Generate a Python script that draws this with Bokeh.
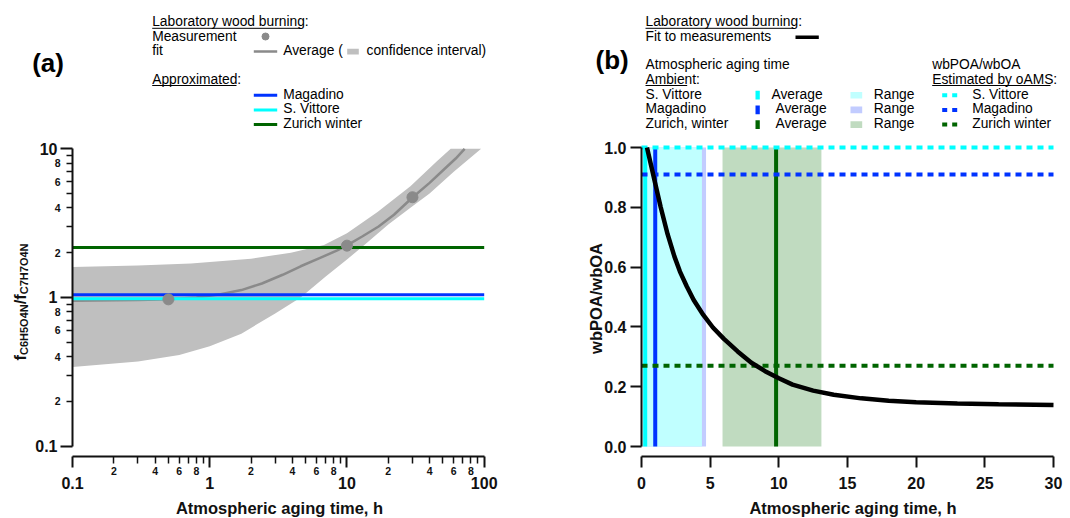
import math
from bokeh.plotting import figure
from bokeh.models import (Range1d, FixedTicker, LogAxis, LinearAxis, LogScale,
                          PrintfTickFormatter)
from bokeh.layouts import row
from bokeh.core.properties import value
from bokeh.embed import file_html
from bokeh.resources import INLINE

FONT = "Liberation Sans"

# ---------------- data: panel (a) ----------------
meas_time = [0.5, 10, 30]
meas_ratio = [0.97, 2.23, 4.72]
fit_time = [0.1, 0.3, 0.5, 0.8, 1.2, 1.7, 2.4, 3.4, 4.6, 6.5, 8.5, 10, 13, 17, 22, 30,
            40, 52, 62, 72]
fit_ratio = [0.95, 0.96, 0.97, 1.0, 1.05, 1.12, 1.24, 1.42, 1.62, 1.86, 2.07, 2.24, 2.58,
             3.0, 3.6, 4.7, 5.9, 7.4, 8.6, 10]
ci_up_time = [0.1, 0.3, 0.73, 2, 3.9, 6.8, 10, 16.7, 29, 45, 57, 95]
ci_up = [1.6, 1.64, 1.69, 1.82, 2.0, 2.25, 2.7, 3.75, 5.6, 8.2, 10, 10]
ci_lo_time = [0.1, 0.3, 0.6, 1.0, 1.7, 3, 4.6, 7, 10, 13, 20, 30, 40, 60, 95]
ci_lo = [0.34, 0.37, 0.41, 0.47, 0.57, 0.78, 1.0, 1.38, 1.8, 2.2, 3.1, 4.1, 5.0, 7.0, 10]
approx_sites = ["Magadino", "S. Vittore", "Zurich winter"]
approx_ratio = [1.04, 0.98, 2.17]

# ---------------- data: panel (b) ----------------
fitb_time = [0.4, 0.7, 1.0, 1.4, 1.9, 2.4, 2.8, 3.3, 3.8, 4.5, 5.2, 6.0, 7.0, 8.0, 9.0,
             10.0, 11.0, 12.5, 14, 16, 18, 20, 23, 26, 30]
fitb_ratio = [1.0, 0.94, 0.88, 0.80, 0.71, 0.635, 0.585, 0.535, 0.49, 0.44, 0.398, 0.36,
              0.318, 0.28, 0.252, 0.228, 0.207, 0.187, 0.173, 0.161, 0.153, 0.148, 0.144,
              0.141, 0.139]
amb_sites = ["S. Vittore", "Magadino", "Zurich, winter"]
age_avg = [0.27, 1.0, 9.8]
age_min = [0.0, 0.0, 5.9]
age_max = [4.4, 4.7, 13.1]
oams_sites = ["S. Vittore", "Magadino", "Zurich winter"]
oams_ratio = [1.0, 0.91, 0.27]

# ---------------- ticks ----------------
xa_major = [0.1, 1, 10, 100]
xa_major_labels = ["0.1", "1", "10", "100"]
xa_minor = [0.2, 0.3, 0.4, 0.5, 0.6, 0.7, 0.8, 0.9, 2, 3, 4, 5, 6, 7, 8, 9,
            20, 30, 40, 50, 60, 70, 80, 90]
xa_minor_lab = [0.2, 0.4, 0.6, 0.8, 2, 4, 6, 8, 20, 40, 60, 80]
xa_minor_txt = ["2", "4", "6", "8"] * 3
ya_major = [0.1, 1, 10]
ya_major_labels = ["0.1", "1", "10"]
ya_minor = [0.2, 0.3, 0.4, 0.5, 0.6, 0.7, 0.8, 0.9, 2, 3, 4, 5, 6, 7, 8, 9]
ya_minor_lab = [0.2, 0.4, 0.6, 0.8, 2, 4, 6, 8]
ya_minor_txt = ["2", "4", "6", "8"] * 2
xb_ticks = [0, 5, 10, 15, 20, 25, 30]
yb_ticks = [0.0, 0.2, 0.4, 0.6, 0.8, 1.0]

# ---------------- styles ----------------
C_BLUE = "#0033ff"
C_CYAN = "#00ffff"
C_GREEN = "#006400"
C_GREY = "#8a8a8a"
C_BAND = "#bfbfbf"
approx_colors = [C_BLUE, C_CYAN, C_GREEN]
amb_colors = [C_CYAN, C_BLUE, C_GREEN]
range_colors = ["#c0ffff", "#c2ccff", "#c0dbc0"]
AX = "#111111"

W, H = 535, 518          # each panel canvas (pixels)
ROWS = [26, 40.3, 54.6, 69, 83.3, 98.3, 113, 127.7]   # legend baselines (page px)
MID = 0.347              # em-box middle above the alphabetic baseline


def make_fig(xr, yr, xlog=False, ylog=False):
    kw = {}
    if xlog:
        kw["extra_x_scales"] = {"d": LogScale()}
    if ylog:
        kw["extra_y_scales"] = {"d": LogScale()}
    p = figure(width=W, height=H, x_range=Range1d(0, W), y_range=Range1d(0, H),
               extra_x_ranges={"d": xr}, extra_y_ranges={"d": yr},
               x_axis_location=None, y_axis_location=None,
               output_backend="svg", toolbar_location=None, outline_line_color=None,
               min_border_left=0, min_border_right=0, min_border_top=0,
               min_border_bottom=0, **kw)
    p.grid.visible = False
    return p


def T(p, xoff, X, Y, s, fs=13.8, bold=False, align="left", rot=False, color="black"):
    """Text whose alphabetic baseline passes through page point (X, Y)."""
    if rot:
        x, y, ang = X - xoff - MID * fs, H - Y, math.pi / 2
    else:
        x, y, ang = X - xoff, H - (Y - MID * fs), 0.0
    p.text(x=[x], y=[y], text=[s], angle=ang, text_font=value(FONT),
           text_font_size=value(f"{fs}px"), text_font_style="bold" if bold else "normal",
           text_align=align, text_baseline="middle", text_color=color)


def S(p, xoff, X0, Y0, X1, Y1, **kw):
    p.segment(x0=[X0 - xoff], y0=[H - Y0], x1=[X1 - xoff], y1=[H - Y1], **kw)


def Q(p, xoff, L, R, Tp, B, color):
    p.quad(left=[L - xoff], right=[R - xoff], top=[H - Tp], bottom=[H - B],
           fill_color=color, line_color=None)


def style_axis(ax, tick_out, minor_out, standoff, size="16px"):
    ax.axis_line_width = 2
    ax.axis_line_color = AX
    ax.major_tick_line_width = 2
    ax.major_tick_line_color = AX
    ax.minor_tick_line_width = 1.5
    ax.minor_tick_line_color = AX
    ax.major_tick_in = 0
    ax.minor_tick_in = 0
    ax.major_tick_out = tick_out
    ax.minor_tick_out = minor_out
    ax.major_label_standoff = standoff
    ax.major_label_text_font = FONT
    ax.major_label_text_font_style = "bold"
    ax.major_label_text_font_size = size
    ax.major_label_text_color = AX


# ======================= panel (a) =======================
AX0, AX1 = 72, 483.7          # page x of 0.1 and 100
DXA = (AX1 - AX0) / 3
AY10, DYA = 148.3, 148.6      # page y of 10, px per decade
xr_a = Range1d(10 ** (-1 - AX0 / DXA), 10 ** (2 + (W - AX1) / DXA))
yr_a = Range1d(10 ** (1 - (H - AY10) / DYA), 10 ** (1 + AY10 / DYA))
pa = make_fig(xr_a, yr_a, xlog=True, ylog=True)
D = dict(x_range_name="d", y_range_name="d")

pa.patch(ci_up_time + ci_lo_time[::-1], ci_up + ci_lo[::-1], fill_color=C_BAND,
         line_color=None, **D)
pa.line(fit_time, fit_ratio, line_color=C_GREY, line_width=2.5, **D)
for i in [1, 0, 2]:
    pa.segment(x0=[xa_major[0]], y0=[approx_ratio[i]], x1=[xa_major[-1]], y1=[approx_ratio[i]],
               line_color=approx_colors[i], line_width=3, **D)
pa.scatter(meas_time, meas_ratio, size=11, color=C_GREY, **D)

xa = LogAxis(x_range_name="d", fixed_location=H - 456, bounds=(0.1, 100),
             ticker=FixedTicker(ticks=xa_major, minor_ticks=xa_minor),
             major_label_overrides=dict(zip(xa_major, xa_major_labels)))
style_axis(xa, 11, 7, 9)
pa.add_layout(xa, "below")
ya = LogAxis(y_range_name="d", fixed_location=AX0, bounds=(0.1, 10),
             ticker=FixedTicker(ticks=ya_major, minor_ticks=ya_minor),
             major_label_overrides=dict(zip(ya_major, ya_major_labels)))
style_axis(ya, 12, 6, 3)
pa.add_layout(ya, "left")

# small minor-tick labels
pa.text(x=xa_minor_lab, y=[H - 470] * len(xa_minor_lab), text=xa_minor_txt, x_range_name="d",
        text_font=value(FONT), text_font_size=value("10.5px"), text_font_style="bold",
        text_align="center", text_baseline="middle", text_color=AX)
pa.text(x=[60] * len(ya_minor_lab), y=ya_minor_lab, text=ya_minor_txt, y_range_name="d",
        text_font=value(FONT), text_font_size=value("10.5px"), text_font_style="bold",
        text_align="right", text_baseline="middle", text_color=AX)

# axis titles
for s, bx, by, fs in [("f", 25.5, 360, 16.5), ("C6H5O4N", 27.5, 354.5, 11),
                      ("/f", 25.5, 303.8, 16.5), ("C7H7O4N", 27.5, 293.7, 11)]:
    T(pa, 0, bx, by, s, fs=fs, bold=True, rot=True, color=AX)
T(pa, 0, 279, 513, "Atmospheric aging time, h", fs=16.5, bold=True, align="center", color=AX)

# legend (a)
T(pa, 0, 31.7, 72, "(a)", fs=26, bold=True)
T(pa, 0, 151.7, ROWS[0], "Laboratory wood burning:")
S(pa, 0, 151.7, 27.8, 300, 27.8, line_color="black", line_width=1)
T(pa, 0, 151.7, ROWS[1], "Measurement")
pa.scatter([265], [H - 36], size=7, color=C_GREY)
T(pa, 0, 151.7, ROWS[2], "fit")
S(pa, 0, 253.3, 51, 276.7, 51, line_color=C_GREY, line_width=2.5)
T(pa, 0, 282.7, ROWS[2], "Average (")
Q(pa, 0, 346.7, 358.3, 48.3, 54, C_BAND)
T(pa, 0, 366, ROWS[2], "confidence interval)")
T(pa, 0, 151.7, ROWS[4], "Approximated:")
S(pa, 0, 151.7, 85.0, 236, 85.0, line_color="black", line_width=1)
for i, name in enumerate(approx_sites):
    yy = ROWS[5 + i]
    S(pa, 0, 253.3, yy - 3.6, 276.7, yy - 3.6, line_color=approx_colors[i], line_width=3)
    T(pa, 0, 282.7, yy, name)

# ======================= panel (b) =======================
XO = 535                       # page x offset of panel (b)
BX0, BX30 = 641, 1053
SXB = (BX30 - BX0) / 30
BY1, BY0 = 147, 446
SYB = BY0 - BY1
xr_b = Range1d(-(BX0 - XO) / SXB, 30 + (XO + W - BX30) / SXB)
yr_b = Range1d(-(H - BY0) / SYB, 1 + BY1 / SYB)
pb = make_fig(xr_b, yr_b)

for i in [1, 0, 2]:
    pb.quad(left=[age_min[i]], right=[age_max[i]], bottom=[yb_ticks[0]], top=[yb_ticks[-1]],
            fill_color=range_colors[i], line_color=None, **D)
pb.segment(x0=age_avg, y0=[yb_ticks[0]] * 3, x1=age_avg, y1=[yb_ticks[-1]] * 3,
           line_color=amb_colors, line_width=4, **D)
pb.segment(x0=[xb_ticks[0]] * 3, y0=oams_ratio, x1=[xb_ticks[-1]] * 3, y1=oams_ratio,
           line_color=amb_colors, line_width=4, line_dash="6 5", **D)
pb.line(fitb_time, fitb_ratio, line_color="black", line_width=4.5, **D)

xb = LinearAxis(x_range_name="d", fixed_location=H - 456, bounds=(0, 30),
                ticker=FixedTicker(ticks=xb_ticks))
style_axis(xb, 11, 0, 9)
pb.add_layout(xb, "below")
yb = LinearAxis(y_range_name="d", fixed_location=BX0 - XO, bounds=(0, 1),
                ticker=FixedTicker(ticks=yb_ticks), formatter=PrintfTickFormatter(format="%.1f"))
style_axis(yb, 11, 0, 4)
pb.add_layout(yb, "left")

T(pb, XO, 601.5, 298, "wbPOA/wbOA", fs=16.5, bold=True, align="center", rot=True, color=AX)
T(pb, XO, 852.5, 513, "Atmospheric aging time, h", fs=16.5, bold=True, align="center",
  color=AX)

# legend (b)
T(pb, XO, 595, 68.5, "(b)", fs=26, bold=True)
T(pb, XO, 645, ROWS[0], "Laboratory wood burning:")
S(pb, XO, 645, 27.8, 793, 27.8, line_color="black", line_width=1)
T(pb, XO, 645, ROWS[1], "Fit to measurements")
S(pb, XO, 795, 36.7, 818.3, 36.7, line_color="black", line_width=3.5)
T(pb, XO, 645, ROWS[3], "Atmospheric aging time")
T(pb, XO, 645, ROWS[4], "Ambient:")
S(pb, XO, 645, 85.0, 686.7, 85.0, line_color="black", line_width=1)
T(pb, XO, 931.7, ROWS[3], "wbPOA/wbOA")
T(pb, XO, 931.7, ROWS[4], "Estimated by oAMS:")
S(pb, XO, 931.7, 85.0, 1050, 85.0, line_color="black", line_width=1)
avg_x = [771, 775, 775]
for i in range(3):
    yy = ROWS[5 + i]
    yc = yy - 3.6
    T(pb, XO, 645, yy, amb_sites[i])
    Q(pb, XO, 755, 759.3, yc - 4.4, yc + 4.4, amb_colors[i])
    T(pb, XO, avg_x[i], yy, "Average")
    Q(pb, XO, 850, 861.7, yc - 3.3, yc + 3.3, range_colors[i])
    T(pb, XO, 873.3, yy, "Range")
    S(pb, XO, 941.7, yc, 961.7, yc, line_color=amb_colors[i], line_width=4, line_dash="5 5")
    T(pb, XO, 971.7, yy, oams_sites[i])

layout = row(pa, pb)
open("out.html", "w").write(file_html(layout, INLINE))
